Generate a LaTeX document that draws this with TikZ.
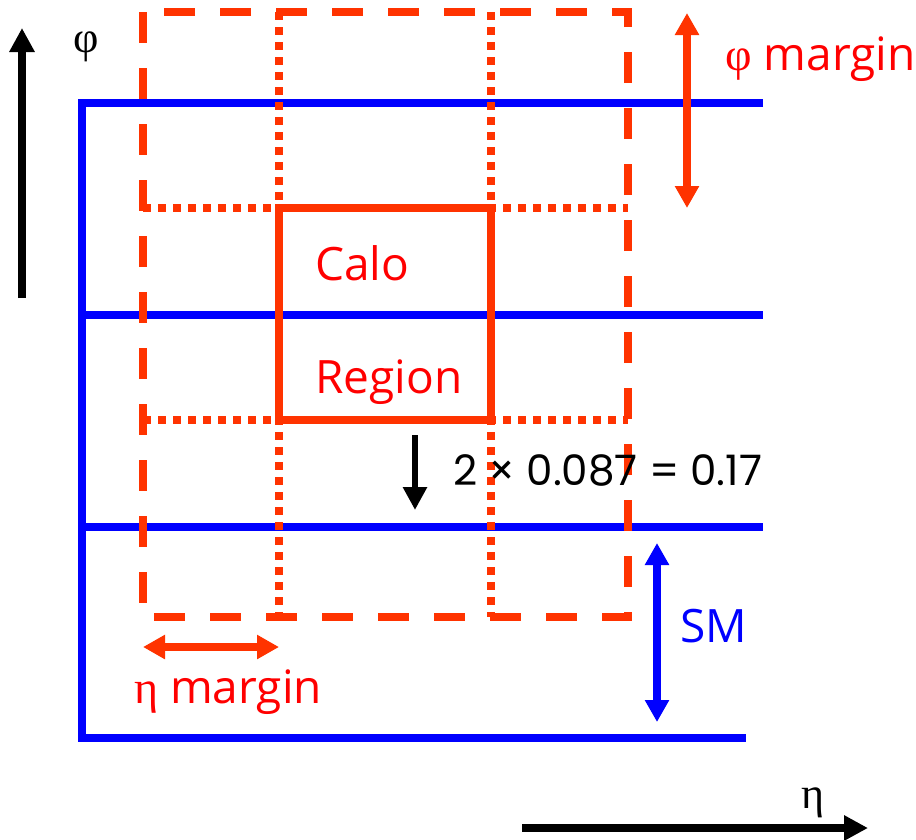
\documentclass[tikz,border=0pt]{standalone}
\usepackage{fontspec}
\setmainfont{Open Sans}
\newfontfamily\greekfont{Liberation Serif}
\newfontfamily\numfont{Poppins}
\usetikzlibrary{arrows.meta,positioning}
\definecolor{calored}{HTML}{FF3300}
\definecolor{txtred}{HTML}{FF0000}
\definecolor{smblue}{HTML}{0000FF}

\begin{document}
\begin{tikzpicture}[x=1pt,y=-1pt,
  grid/.style={smblue,line width=8pt},
  outer/.style={calored,line width=8pt,dash pattern=on 31pt off 25pt},
  inner/.style={calored,line width=8pt,dash pattern=on 8pt off 7pt},
  calo/.style={calored,line width=8pt},
  axis/.style={line width=8pt,-{Triangle[length=24pt,width=24pt]}},
  span/.style={line width=8pt,{Triangle[length=22pt,width=23pt]}-{Triangle[length=22pt,width=23pt]}},
  lbl/.style={inner sep=0pt,anchor=base west,font=\fontsize{46}{48}\selectfont},
  greek/.style={inner sep=0pt,anchor=base,font=\greekfont\fontsize{44}{44}\selectfont}]
  \useasboundingbox (0,0) rectangle (916,839);
  \coordinate (g1w) at (82,103);  \coordinate (g1e) at (763,103);
  \coordinate (g2w) at (82,315);  \coordinate (g2e) at (763,315);
  \coordinate (g3w) at (82,527);  \coordinate (g3e) at (763,527);
  \coordinate (g4w) at (82,738);  \coordinate (g4e) at (746,738);
  \draw[grid] (g1e) -- (g1w) -- (g4w) -- (g4e);
  \draw[grid] (g2w) -- (g2e);
  \draw[grid] (g3w) -- (g3e);
  \coordinate (nw) at (143,12);  \coordinate (se) at (628,617);
  \coordinate (rnw) at (279,208); \coordinate (rse) at (491,420);
  \draw[inner] (rnw |- nw) -- (rnw |- se);
  \draw[inner] (rse |- nw) -- (rse |- se);
  \draw[inner] (nw |- rnw) -- (se |- rnw);
  \draw[inner] (nw |- rse) -- (se |- rse);
  \draw[outer] (nw) rectangle (se);
  \draw[calo] (rnw) rectangle (rse);
  \node[lbl,txtred] (calo) at (315,280) {Calo};
  \node[lbl,txtred] (region) at (315,393) {Region};
  \coordinate (phitop) at (687,13);  \coordinate (phibot) at (687,208);
  \draw[span,calored] (phitop) -- (phibot);
  \node[lbl,txtred] (phimargin) at (725,70) {{\greekfont φ} margin};
  \coordinate (etaleft) at (143,647); \coordinate (etaright) at (279,647);
  \draw[span,calored] (etaleft) -- (etaright);
  \node[lbl,txtred] (etamargin) at (134,703) {{\greekfont η} margin};
  \coordinate (smtop) at (657,543); \coordinate (smbot) at (657,722);
  \draw[span,smblue] (smtop) -- (smbot);
  \node[lbl,smblue] (sm) at (680,642) {SM};
  \coordinate (stepa) at (415,435); \coordinate (stepb) at (415,510);
  \draw[axis,line width=6pt,-{Triangle[length=23pt,width=23pt]}] (stepa) -- (stepb);
  \node[lbl,font=\numfont\fontsize{42}{44}\selectfont] (width) at (453,485) {2 × 0.087 = 0.17};
  \coordinate (yfoot) at (22,298); \coordinate (ytip) at (22,28);
  \draw[axis] (yfoot) -- (ytip);
  \node[greek] (phi) at (86,52) {φ};
  \coordinate (xfoot) at (522,828); \coordinate (xtip) at (868,828);
  \draw[axis] (xfoot) -- (xtip);
  \node[greek] (eta) at (813,808) {η};
\end{tikzpicture}
\end{document}
